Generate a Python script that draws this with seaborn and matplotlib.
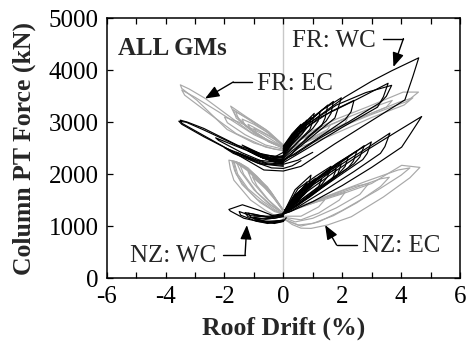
import pandas as pd
import matplotlib
matplotlib.use("Agg")
import matplotlib.pyplot as plt
import seaborn as sns

# ─── Data: hysteresis loops (roof drift %, column PT force kN) ───────────────
# FR: WC  (black, upper family)
fr_wc_drift = [
    [0.0, 0.4, 1.0, 2.08, 3.0, 3.68, 4.6, 4.4, 4.13, 3.0, 1.74, 0.6, 0.0, -0.66, -2.0, -3.45, -3.5, -3.25, -2.7, -1.57, -0.66, 0.0],
    [0.0, 0.8, 1.8, 2.8, 3.68, 3.5, 3.3, 2.2, 1.2, 0.4, 0.0, -0.7, -1.6, -2.7, -3.3, -3.55, -3.45, -2.7, -1.6, -0.7, 0.0],
    [0.0, 0.6, 1.3, 1.97, 1.85, 1.75, 1.1, 0.4, 0.0, -0.5, -1.2, -1.0, -0.4, 0.0],
    [0.0, 0.5, 1.0, 1.51, 1.42, 1.3, 0.7, 0.2, 0.0, -0.8, -1.4, -1.1, -0.3, 0.0],
    [0.0, 0.45, 1.05, 0.98, 0.9, 0.5, 0.0],
    [0.0, 0.35, 0.8, 0.75, 0.65, 0.3, 0.0],
    [0.0, 0.3, 0.6, 0.55, 0.5, 0.25, 0.0],
    [0.1, 0.45, 0.5, 0.45, 0.2, 0.0],
    [0.0, 0.5, 1.2, 2.5, 3.56, 3.4, 3.2, 2.0, 0.8, 0.0, -0.9, -2.0, -1.7, -0.8, 0.0],
    [0.0, -0.6, -1.3, -2.0, -2.3, -2.2, -1.4, -0.6, 0.0, 0.5, 1.0],
    [0.0, 0.7, 1.6, 2.4, 2.3, 2.1, 1.2, 0.4, 0.0],
    [0.0, 0.4, 0.9, 1.25, 1.18, 1.0, 0.5, 0.0, -0.6, -1.0, -0.8, -0.3, 0.0],
    [0.0, 0.3, 0.7, 0.95, 0.9, 0.7, 0.3, 0.0, -0.5, -0.9, -0.7, -0.2, 0.0],
    [0.05, 0.25, 0.5, 0.7, 0.66, 0.45, 0.15, 0.0, -0.4, -0.7, -0.5, 0.0],
    [0.0, 0.5, 1.1, 1.7, 1.62, 1.45, 0.8, 0.3, 0.0, -0.7, -1.2, -0.9, -0.2, 0.0],
    [0.0, 0.2, 0.4, 0.38, 0.2, 0.0, -0.3, -0.6, -0.45, 0.0],
    [0.0, -0.5, -1.0, -1.6, -1.5, -0.9, -0.4, 0.0, 0.3, 0.6],
]
fr_wc_force = [
    [2480, 2780, 3030, 3480, 3790, 3990, 4240, 3880, 3430, 3030, 2580, 2150, 2060, 2080, 2520, 2980, 3040, 3000, 2880, 2560, 2370, 2330],
    [2480, 2950, 3330, 3570, 3710, 3500, 3380, 3000, 2680, 2380, 2280, 2320, 2560, 2850, 3000, 3020, 2960, 2720, 2400, 2200, 2170],
    [2420, 2880, 3230, 3470, 3250, 3080, 2780, 2450, 2270, 2320, 2490, 2420, 2250, 2220],
    [2450, 2830, 3080, 3330, 3080, 2930, 2630, 2400, 2300, 2400, 2560, 2450, 2270, 2250],
    [2490, 2830, 3170, 2980, 2860, 2620, 2350],
    [2520, 2780, 3040, 2880, 2780, 2580, 2390],
    [2540, 2780, 2960, 2830, 2730, 2600, 2420],
    [2580, 2860, 2890, 2730, 2560, 2450],
    [2370, 2760, 3080, 3440, 3750, 3490, 3290, 2900, 2490, 2220, 2270, 2510, 2400, 2200, 2150],
    [2270, 2310, 2470, 2630, 2700, 2650, 2410, 2220, 2190, 2270, 2420],
    [2440, 2870, 3200, 3420, 3200, 3050, 2700, 2400, 2260],
    [2460, 2780, 3030, 3200, 3020, 2880, 2620, 2320, 2290, 2400, 2340, 2240, 2230],
    [2500, 2740, 2960, 3100, 2960, 2820, 2580, 2340, 2300, 2380, 2320, 2240, 2250],
    [2520, 2720, 2890, 2990, 2880, 2720, 2520, 2360, 2310, 2360, 2300, 2270],
    [2430, 2840, 3140, 3400, 3170, 3020, 2700, 2400, 2240, 2310, 2450, 2360, 2210, 2200],
    [2540, 2680, 2800, 2720, 2580, 2420, 2330, 2360, 2300, 2260],
    [2200, 2190, 2280, 2420, 2390, 2220, 2120, 2110, 2160, 2260],
]

# FR: EC  (gray, upper family)
fr_ec_drift = [
    [0.0, -1.11, -2.66, -3.2, -3.5, -3.45, -2.93, -1.91, -1.0, -0.3, 0.0],
    [0.0, -1.0, -2.2, -3.0, -3.45, -3.35, -2.6, -1.6, -0.6, 0.0],
    [0.0, -0.6, -1.3, -1.79, -1.65, -1.2, -0.5, 0.0],
    [0.0, -0.5, -1.1, -1.62, -1.5, -1.0, -0.4, 0.0],
    [0.0, -0.5, -1.0, -1.4, -1.3, -0.9, -0.3, 0.0],
    [0.0, -0.4, -0.9, -1.2, -1.1, -0.7, -0.2, 0.0],
    [0.0, -0.7, -1.5, -2.0, -1.9, -1.3, -0.6, 0.0],
    [0.0, 0.3, 0.6, 0.5, 0.2, 0.0],
    [0.0, 0.8, 1.8, 2.88, 4.07, 4.59, 4.2, 3.0, 2.0, 1.0, 0.3, 0.0],
    [0.0, 1.0, 2.3, 3.2, 3.7, 3.5, 2.5, 1.2, 0.0],
    [0.0, 0.6, 1.5, 2.2, 2.1, 1.2, 0.0],
    [0.0, 1.2, 2.6, 3.9, 4.4, 4.1, 3.0, 1.6, 0.0],
    [0.0, -0.6, -1.2, -1.7, -1.6, -1.1, -0.5, 0.0],
    [0.0, -0.3, -0.7, -1.0, -0.9, -0.5, -0.1, 0.0],
    [0.0, 0.5, 1.2, 1.6, 1.5, 0.9, 0.0],
]
fr_ec_force = [
    [2520, 2810, 3460, 3640, 3720, 3650, 3420, 2860, 2600, 2480, 2460],
    [2500, 2760, 3200, 3480, 3620, 3520, 3200, 2780, 2520, 2450],
    [2560, 2860, 3120, 3310, 3150, 2900, 2640, 2520],
    [2560, 2820, 3040, 3200, 3040, 2820, 2600, 2500],
    [2540, 2790, 2960, 3060, 2930, 2760, 2580, 2500],
    [2540, 2720, 2870, 2960, 2850, 2700, 2560, 2510],
    [2520, 2770, 3000, 3100, 2990, 2760, 2560, 2480],
    [2480, 2600, 2720, 2640, 2520, 2450],
    [2500, 2780, 3060, 3300, 3580, 3580, 3400, 3150, 2920, 2680, 2500, 2460],
    [2480, 2800, 3120, 3320, 3420, 3290, 3060, 2720, 2430],
    [2470, 2690, 2930, 3100, 2980, 2730, 2440],
    [2450, 2760, 3080, 3380, 3470, 3330, 3090, 2740, 2400],
    [2550, 2830, 3060, 3240, 3080, 2860, 2620, 2510],
    [2530, 2670, 2800, 2880, 2790, 2640, 2540, 2500],
    [2460, 2640, 2840, 2950, 2860, 2680, 2420],
]

# NZ: WC  (black, lower family)
nz_wc_drift = [
    [0.05, 0.8, 1.8, 2.8, 3.8, 4.7, 4.3, 4.02, 3.0, 2.0, 1.0, 0.2, 0.0, -0.5, -1.0],
    [0.05, 0.9, 2.0, 3.0, 3.62, 3.45, 3.3, 2.4, 1.3, 0.3, 0.0],
    [0.05, 0.8, 1.8, 2.99, 2.85, 2.7, 1.8, 0.8, 0.0],
    [0.05, 0.7, 1.6, 2.5, 2.38, 2.2, 1.4, 0.5, 0.0],
    [0.05, 0.6, 1.3, 1.97, 1.85, 1.7, 1.0, 0.3, 0.0],
    [0.05, 0.5, 1.1, 1.62, 1.5, 1.3, 0.7, 0.0],
    [0.05, 0.5, 1.0, 1.3, 1.2, 0.9, 0.4, 0.0],
    [0.05, 0.4, 0.94, 0.85, 0.5, 0.0],
    [0.05, 0.35, 0.7, 0.62, 0.3, 0.0],
    [0.05, 0.25, 0.5, 0.45, 0.2, 0.0],
    [0.05, 0.55, 0.8, 0.7, 0.35, 0.0],
    [0.05, 0.45, 0.6, 0.55, 0.25, 0.0],
    [0.1, 0.0, -0.3, -0.8, -1.39, -1.85, -1.8, -1.34, -0.54, 0.0, 0.1],
    [0.0, -0.5, -1.0, -1.2, -1.1, -0.6, 0.0],
    [0.0, -0.6, -1.0, -0.9, -0.4, 0.0],
    [0.0, -0.4, -0.8, -1.3, -1.2, -0.7, -0.2, 0.0],
    [0.05, 0.7, 1.5, 2.2, 2.1, 1.9, 1.2, 0.5, 0.0],
    [0.05, 0.6, 1.2, 1.8, 1.7, 1.5, 0.9, 0.3, 0.0],
    [0.05, 0.4, 0.8, 1.1, 1.02, 0.7, 0.3, 0.0],
    [0.05, 0.3, 0.6, 0.85, 0.8, 0.5, 0.2, 0.0],
    [0.05, 0.9, 1.9, 2.75, 2.6, 2.4, 1.5, 0.6, 0.0],
    [0.0, -0.3, -0.7, -1.0, -0.95, -0.5, 0.0],
    [0.0, -0.5, -1.1, -1.5, -1.45, -0.9, -0.3, 0.0],
]
nz_wc_force = [
    [1290, 1660, 2070, 2450, 2800, 3110, 2760, 2520, 2130, 1780, 1470, 1270, 1240, 1190, 1200],
    [1300, 1750, 2200, 2560, 2790, 2530, 2400, 2050, 1650, 1300, 1230],
    [1300, 1760, 2200, 2620, 2400, 2280, 1930, 1530, 1240],
    [1300, 1740, 2120, 2450, 2250, 2120, 1800, 1430, 1250],
    [1300, 1700, 1980, 2200, 2000, 1900, 1630, 1350, 1240],
    [1300, 1720, 1960, 2150, 1950, 1800, 1550, 1250],
    [1300, 1620, 1800, 1900, 1760, 1620, 1420, 1250],
    [1300, 1700, 1980, 1750, 1480, 1260],
    [1290, 1560, 1760, 1600, 1400, 1250],
    [1290, 1460, 1600, 1480, 1340, 1250],
    [1290, 1650, 1850, 1650, 1420, 1260],
    [1280, 1560, 1700, 1560, 1380, 1250],
    [1280, 1220, 1190, 1300, 1410, 1320, 1290, 1150, 1050, 1090, 1160],
    [1200, 1170, 1230, 1250, 1170, 1090, 1110],
    [1180, 1130, 1170, 1110, 1070, 1120],
    [1210, 1160, 1200, 1260, 1180, 1100, 1070, 1100],
    [1300, 1720, 2060, 2330, 2150, 2020, 1740, 1400, 1240],
    [1300, 1660, 1920, 2100, 1950, 1820, 1560, 1330, 1240],
    [1300, 1600, 1800, 1920, 1800, 1600, 1380, 1250],
    [1290, 1520, 1700, 1820, 1700, 1500, 1330, 1250],
    [1300, 1780, 2200, 2550, 2330, 2200, 1840, 1450, 1240],
    [1190, 1150, 1140, 1160, 1110, 1070, 1110],
    [1220, 1170, 1200, 1280, 1210, 1090, 1050, 1090],
]

# NZ: EC  (gray, lower family)
nz_ec_drift = [
    [0.0, -0.54, -1.1, -1.6, -1.85, -1.8, -1.68, -1.11, -0.6, -0.2, 0.0],
    [0.0, -0.5, -1.1, -1.5, -1.75, -1.65, -1.4, -0.9, -0.4, 0.0],
    [0.0, -0.45, -1.0, -1.45, -1.68, -1.55, -1.2, -0.7, -0.3, 0.0],
    [0.0, -0.4, -0.9, -1.3, -1.6, -1.45, -1.0, -0.5, 0.0],
    [0.0, -0.4, -0.8, -1.2, -1.5, -1.35, -0.9, -0.4, 0.0],
    [0.0, -0.35, -0.7, -1.0, -1.2, -1.05, -0.6, -0.2, 0.0],
    [0.0, 0.26, 1.0, 2.0, 3.0, 4.02, 4.64, 4.3, 3.4, 2.31, 1.5, 0.94, 0.6, 0.3, 0.0],
    [0.0, 1.0, 2.2, 3.3, 3.6, 3.3, 2.5, 1.7, 1.0, 0.5, 0.0],
    [0.0, 1.2, 2.4, 2.9, 2.6, 1.8, 1.0, 0.4, 0.0],
    [0.0, 0.8, 1.6, 2.1, 1.9, 1.2, 0.6, 0.0],
    [0.0, 0.5, 1.2, 1.4, 1.2, 0.6, 0.0],
    [0.0, 1.4, 2.8, 3.9, 4.3, 4.0, 3.2, 2.0, 1.2, 0.6, 0.0],
    [0.0, -0.5, -1.0, -1.4, -1.7, -1.6, -1.3, -0.8, -0.3, 0.0],
    [0.0, -0.3, -0.6, -0.9, -1.05, -0.9, -0.5, -0.1, 0.0],
]
nz_ec_force = [
    [1310, 1755, 2050, 2240, 2270, 2100, 1883, 1500, 1300, 1178, 1200],
    [1300, 1700, 2030, 2200, 2260, 2060, 1800, 1520, 1330, 1220],
    [1300, 1680, 2000, 2200, 2250, 2000, 1720, 1480, 1320, 1230],
    [1300, 1640, 1960, 2150, 2240, 2050, 1700, 1430, 1240],
    [1300, 1620, 1900, 2120, 2220, 2000, 1650, 1400, 1250],
    [1290, 1560, 1780, 1950, 2050, 1850, 1550, 1330, 1260],
    [1260, 1310, 1440, 1620, 1820, 2170, 2130, 1930, 1560, 1180, 1020, 955, 960, 1030, 1150],
    [1260, 1470, 1690, 1910, 1940, 1760, 1450, 1200, 1050, 1020, 1140],
    [1250, 1510, 1760, 1820, 1610, 1350, 1150, 1080, 1170],
    [1240, 1420, 1570, 1650, 1500, 1250, 1120, 1170],
    [1230, 1340, 1480, 1500, 1370, 1190, 1190],
    [1250, 1560, 1860, 2080, 2120, 1980, 1690, 1300, 1080, 1000, 1130],
    [1300, 1690, 1980, 2140, 2250, 2000, 1760, 1460, 1280, 1230],
    [1290, 1520, 1720, 1870, 1950, 1780, 1500, 1300, 1260],
]

x_ticks = [-6, -4, -2, 0, 2, 4, 6]
x_minor = [-5, -3, -1, 1, 3, 5]
y_ticks = [0, 1000, 2000, 3000, 4000, 5000]

# ─── Build long-form table ───────────────────────────────────────────────────
rows = []
for group, drifts, forces in [("FR_WC", fr_wc_drift, fr_wc_force),
                              ("FR_EC", fr_ec_drift, fr_ec_force),
                              ("NZ_EC", nz_ec_drift, nz_ec_force),
                              ("NZ_WC", nz_wc_drift, nz_wc_force)]:
    for i, (xs, ys) in enumerate(zip(drifts, forces)):
        for x, y in zip(xs, ys):
            rows.append({"group": group, "loop": f"{group}_{i}", "drift": x, "force": y})
df = pd.DataFrame(rows)

BLACK = "#000000"
GRAY = "#a8a8a8"
colors = {"FR_WC": BLACK, "FR_EC": GRAY, "NZ_EC": GRAY, "NZ_WC": BLACK}

# ─── Style ───────────────────────────────────────────────────────────────────
sns.set_style("ticks")
plt.rcParams["font.family"] = ["Liberation Serif", "DejaVu Serif"]
plt.rcParams["axes.unicode_minus"] = False

fig = plt.figure(figsize=(4.66, 3.43), dpi=100)
ax = fig.add_axes([0.229, 0.1895, 0.758, 0.757])

ax.axvline(0, color="#c8c8c8", lw=1.0, zorder=0)

for group in ["FR_EC", "FR_WC", "NZ_EC", "NZ_WC"]:
    sns.lineplot(data=df[df["group"] == group], x="drift", y="force",
                 units="loop", estimator=None, sort=False,
                 color=colors[group], lw=0.85, ax=ax, legend=False)

ax.set_xlim(-6, 6)
ax.set_ylim(0, 5000)
ax.set_xticks(x_ticks)
ax.set_xticks(x_minor, minor=True)
ax.set_yticks(y_ticks)
ax.tick_params(which="both", direction="in", top=True, right=True,
               labelsize=18, colors="black", width=0.9)
ax.tick_params(which="major", length=4, pad=6)
ax.tick_params(which="minor", length=4)
for s in ax.spines.values():
    s.set_linewidth(1.1)
    s.set_color("black")

ax.set_xlabel("Roof Drift (%)", fontsize=18.5, fontweight="bold")
ax.set_ylabel("Column PT Force (kN)", fontsize=18.5, fontweight="bold")
ax.xaxis.set_label_coords(0.5, -0.15)
ax.yaxis.set_label_coords(-0.2, 0.5)

# ─── Annotations ─────────────────────────────────────────────────────────────
ax.text(-5.62, 4300, "ALL GMs", fontsize=18, fontweight="bold", ha="left", va="baseline")

labels = [
    ("FR: WC", 0.29, 4450, (3.40, 4610), (4.08, 4610), (3.74, 4064)),
    ("FR: EC", -0.90, 3615, (-1.07, 3775), (-1.70, 3775), (-2.66, 3456)),
    ("NZ: WC", -5.21, 313, (-2.04, 442), (-1.30, 442), (-1.24, 1019)),
    ("NZ: EC", 2.66, 506, (2.49, 635), (1.81, 635), (1.42, 1019)),
]
for txt, tx, ty, start, corner, tip in labels:
    ax.text(tx, ty, txt, fontsize=18, ha="left", va="baseline")
    ax.plot([start[0], corner[0]], [start[1], corner[1]], color="black", lw=1.0)
    ax.annotate("", xy=tip, xytext=corner,
                arrowprops=dict(arrowstyle="-|>,head_length=0.95,head_width=0.38",
                                color="black", lw=1.0, shrinkA=0, shrinkB=0,
                                mutation_scale=9))

fig.savefig("out.png", dpi=100)
plt.close()
